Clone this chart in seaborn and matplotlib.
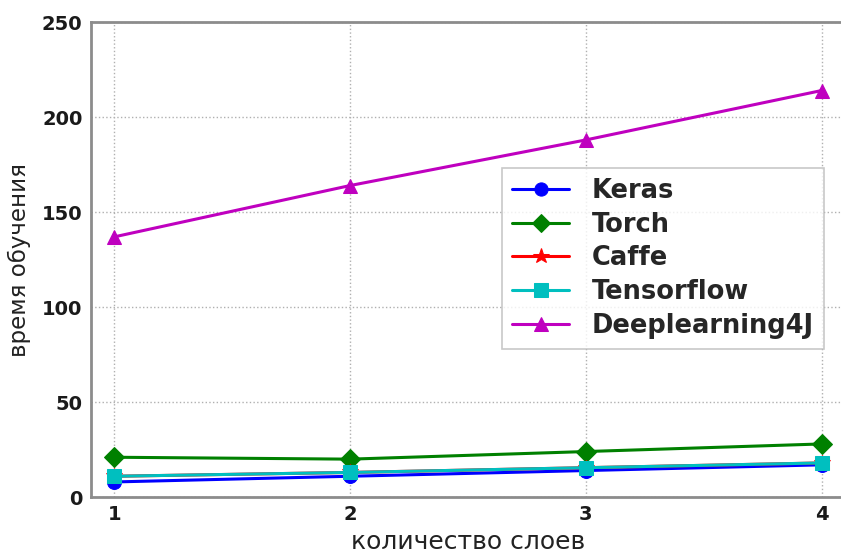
import matplotlib
matplotlib.use("Agg")
import matplotlib.pyplot as plt
import seaborn as sns
import pandas as pd

layers = [1, 2, 3, 4]
keras = [8, 11, 14, 17]
torch = [21, 20, 24, 28]
caffe = [11, 13, 15.5, 18]
tensorflow = [11, 13, 15.5, 18]
dl4j = [137, 164, 188, 214]

frameworks = ["Keras", "Torch", "Caffe", "Tensorflow", "Deeplearning4J"]
series = [keras, torch, caffe, tensorflow, dl4j]
colors = ["#0000ff", "#008000", "#ff0000", "#00bfbf", "#bf00bf"]
markers = ["o", "D", "*", "s", "^"]

sns.set_style("white")
plt.rcParams["font.family"] = ["DejaVu Sans"]

fig = plt.figure(figsize=(8.41, 5.53), dpi=100)
ax = fig.add_axes([0.108, 0.101, 0.897, 0.859])

for name, vals, col, mk in zip(frameworks, series, colors, markers):
    df = pd.DataFrame({"layers": layers, "time": vals})
    sns.lineplot(data=df, x="layers", y="time", ax=ax, color=col, marker=mk,
                 markersize=10 if mk != "*" else 12, linewidth=2.2,
                 markeredgecolor=col, label=name)

ax.set_xlim(0.9, 4.1)
ax.set_ylim(0, 250)
ax.set_xticks(layers)
ax.set_yticks([0, 50, 100, 150, 200, 250])
ax.grid(True, linestyle=":", color="#b0b0b0", linewidth=1)
ax.tick_params(axis="both", direction="in", length=4, color="#888888",
               labelsize=14, pad=6)
for lab in ax.get_xticklabels() + ax.get_yticklabels():
    lab.set_fontweight("bold")
    lab.set_color("#1a1a1a")
for sp in ax.spines.values():
    sp.set_color("#8c8c8c")
    sp.set_linewidth(2)

ax.set_xlabel("количество слоев", fontsize=18, color="#222222", labelpad=4)
ax.set_ylabel("время обучения", fontsize=16.5, color="#222222", labelpad=8)

leg = ax.legend(loc="upper left", bbox_to_anchor=(0.597, 0.697),
                bbox_transform=fig.transFigure, borderaxespad=0,
                prop={"weight": "bold", "size": 18.5},
                handlelength=2.2, labelspacing=0.3, borderpad=0.4,
                handletextpad=0.9, fancybox=False, frameon=True, markerscale=0.95)
leg.get_frame().set_edgecolor("#bbbbbb")
leg.get_frame().set_linewidth(1.2)

fig.savefig("out.png", dpi=100)
